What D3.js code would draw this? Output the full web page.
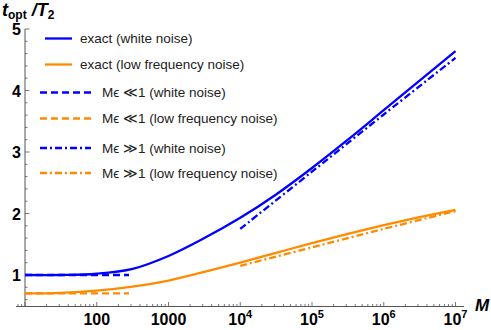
<!DOCTYPE html>
<html>
<head>
<meta charset="utf-8">
<script src="https://cdn.jsdelivr.net/npm/d3@7"></script>
<style>
  body { margin: 0; background: #fff; }
  svg { font-family: "Liberation Sans", Arial, sans-serif; }
</style>
</head>
<body>
<div class="chart"></div>
<script>
// log10(M) sample points and values
const logM = [1, 1.5, 2, 2.5, 3, 3.5, 4, 4.5, 5, 5.5, 6, 6.5, 7];
const exactWhite = [1.00, 1.00, 1.02, 1.10, 1.31, 1.60, 1.93, 2.31, 2.74, 3.20, 3.68, 4.16, 4.64];
const exactLow = [0.70, 0.71, 0.745, 0.81, 0.91, 1.05, 1.20, 1.36, 1.52, 1.67, 1.81, 1.94, 2.06];

const smallLogM = [1, 2.45];
const smallWhite = [1.0, 1.0];
const smallLow = [0.70, 0.70];

const largeLogM = [4, 5, 6, 7];
const largeWhite = [1.75, 2.68, 3.61, 4.53];
const largeLow = [1.15, 1.45, 1.75, 2.04];

const xMajor = [100, 1000, 1e4, 1e5, 1e6, 1e7];
const yMajor = [1, 2, 3, 4, 5];

const blue = '#0000ff';
const orange = '#ff8a00';

const width = 491, height = 330;

const svg = d3.select('.chart').append('svg')
  .attr('width', width)
  .attr('height', height);

const x = d3.scaleLog().domain([10, 1e7]).range([25, 455.5]);
const y = d3.scaleLinear().domain([1, 5]).range([275, 29]);
const yBottom = 306.5;

// axes
const axisColor = '#555';
const xMinor = [];
for (let e = 0; e <= 6; e++) {
  for (let k = 2; k <= 9; k++) {
    const v = k * Math.pow(10, e);
    if (v >= 8 && x(v) < 464) xMinor.push(v);
  }
}

const gx = svg.append('g').attr('transform', 'translate(0,' + yBottom + ')');
gx.append('line')
  .attr('x1', 16).attr('x2', 464)
  .attr('stroke', axisColor).attr('stroke-width', 1);
gx.selectAll('.minor').data(xMinor).enter().append('line')
  .attr('x1', d => x(d)).attr('x2', d => x(d))
  .attr('y1', 0).attr('y2', -2.5)
  .attr('stroke', axisColor).attr('stroke-width', 0.8);
gx.selectAll('.major').data(xMajor.concat([10])).enter().append('line')
  .attr('x1', d => x(d)).attr('x2', d => x(d))
  .attr('y1', 0).attr('y2', -4.5)
  .attr('stroke', axisColor).attr('stroke-width', 0.8);

const xl = gx.selectAll('.lbl').data(xMajor).enter().append('text')
  .attr('x', d => x(d))
  .attr('y', 18.5)
  .attr('text-anchor', 'middle')
  .attr('font-size', 16)
  .attr('font-weight', 'bold')
  .attr('fill', '#000');
xl.each(function(d) {
  const t = d3.select(this);
  const e = Math.round(Math.log10(d));
  if (e <= 3) {
    t.text(String(d));
  } else {
    t.append('tspan').text('10');
    t.append('tspan').attr('font-size', 11).attr('dy', -7).text(String(e));
  }
});

svg.append('text')
  .attr('x', 475).attr('y', 311)
  .attr('font-size', 17).attr('font-weight', 'bold').attr('font-style', 'italic')
  .text('M');

const yMinor = d3.range(6, 50, 2).map(v => v / 10).filter(v => Math.round(v * 10) % 10 !== 0);
const gy = svg.append('g').attr('transform', 'translate(25,0)');
gy.append('line')
  .attr('y1', y(5)).attr('y2', yBottom)
  .attr('stroke', axisColor).attr('stroke-width', 1);
gy.selectAll('.minor').data(yMinor).enter().append('line')
  .attr('y1', d => y(d)).attr('y2', d => y(d))
  .attr('x1', 0).attr('x2', 2.5)
  .attr('stroke', axisColor).attr('stroke-width', 0.8);
gy.selectAll('.major').data(yMajor).enter().append('line')
  .attr('y1', d => y(d)).attr('y2', d => y(d))
  .attr('x1', 0).attr('x2', 4.5)
  .attr('stroke', axisColor).attr('stroke-width', 0.8);
gy.selectAll('.lbl').data(yMajor).enter().append('text')
  .attr('x', -4)
  .attr('y', d => y(d) + 6)
  .attr('text-anchor', 'end')
  .attr('font-size', 16)
  .attr('font-weight', 'bold')
  .text(d => d);

// y title
const title = svg.append('text')
  .attr('x', 2).attr('y', 16)
  .attr('font-weight', 'bold');
title.append('tspan').attr('font-size', 18).attr('font-style', 'italic').text('t');
title.append('tspan').attr('font-size', 12).attr('dy', 3).text('opt');
title.append('tspan').attr('font-size', 18).attr('font-style', 'italic').attr('dy', -3).text(' /T');
title.append('tspan').attr('font-size', 12).attr('dy', 3).text('2');

// curves
const line = d3.line()
  .x(d => x(Math.pow(10, d[0])))
  .y(d => y(d[1]))
  .curve(d3.curveCatmullRom.alpha(0.5));

const series = [
  { xs: logM, ys: exactWhite, color: blue, dash: null },
  { xs: logM, ys: exactLow, color: orange, dash: null },
  { xs: smallLogM, ys: smallWhite, color: blue, dash: '7,4' },
  { xs: smallLogM, ys: smallLow, color: orange, dash: '7,4' },
  { xs: largeLogM, ys: largeWhite, color: blue, dash: '7,3,2,3' },
  { xs: largeLogM, ys: largeLow, color: orange, dash: '7,3,2,3' }
];

svg.append('g').selectAll('path')
  .data(series)
  .enter().append('path')
  .attr('d', s => line(s.xs.map((v, i) => [v, s.ys[i]])))
  .attr('fill', 'none')
  .attr('stroke', s => s.color)
  .attr('stroke-width', 2.3)
  .attr('stroke-dasharray', s => s.dash);

// legend
const legendItems = [
  { label: 'exact (white noise)', color: blue, dash: null, y: 38.5, x1: 45, x2: 72, tx: 80 },
  { label: 'exact (low frequency noise)', color: orange, dash: null, y: 64.5, x1: 45, x2: 72, tx: 80 },
  { label: 'M\u03f5 \u226a1 (white noise)', color: blue, dash: '7,4', y: 92.5, x1: 40, x2: 92, tx: 102 },
  { label: 'M\u03f5 \u226a1 (low frequency noise)', color: orange, dash: '7,4', y: 118.5, x1: 40, x2: 92, tx: 102 },
  { label: 'M\u03f5 \u226b1 (white noise)', color: blue, dash: '7,3,2,3', y: 148, x1: 40, x2: 91, tx: 102 },
  { label: 'M\u03f5 \u226b1 (low frequency noise)', color: orange, dash: '7,3,2,3', y: 173, x1: 40, x2: 91, tx: 102 }
];

const legend = svg.append('g')
  .selectAll('g')
  .data(legendItems)
  .enter().append('g');

legend.append('line')
  .attr('x1', d => d.x1).attr('x2', d => d.x2)
  .attr('y1', d => d.y).attr('y2', d => d.y)
  .attr('stroke', d => d.color)
  .attr('stroke-width', 2.3)
  .attr('stroke-dasharray', d => d.dash);

legend.append('text')
  .attr('x', d => d.tx)
  .attr('y', d => d.y + 4.5)
  .attr('font-size', 13.5)
  .attr('fill', '#222')
  .text(d => d.label);
</script>
</body>
</html>
